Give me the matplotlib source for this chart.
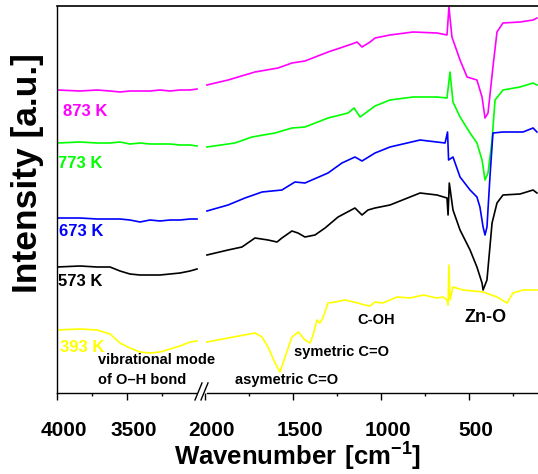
import numpy as np
import matplotlib
matplotlib.use("Agg")
import matplotlib.pyplot as plt
from matplotlib.ticker import FixedLocator
from matplotlib.transforms import ScaledTranslation

plt.rcParams['font.family'] = ['Liberation Sans', 'DejaVu Sans']
plt.rcParams['font.weight'] = 'bold'
plt.rcParams['mathtext.fontset'] = 'custom'
plt.rcParams['mathtext.rm'] = 'Liberation Sans:bold'
plt.rcParams['mathtext.bf'] = 'Liberation Sans:bold'

# ---- data, intensity in arbitrary units ----
left_wn = [4000, 3836, 3714, 3621, 3550, 3479, 3407, 3336, 3264, 3193, 3121, 3050, 3000]
left_873 = [303, 302, 303, 302, 301, 302, 302, 302, 303, 302, 303, 303, 304]
left_773 = [250, 251, 250, 250, 251, 249, 250, 249, 249, 249, 248, 248, 247]
left_673 = [175, 175, 174, 174, 174, 173, 171, 173, 172, 173, 173, 174, 174]
left_573 = [126, 127, 126, 126, 122, 119, 118, 118, 118, 119, 120, 122, 124]
left_393 = [63, 64, 63, 59, 50, 45, 41, 40, 41, 44, 47, 51, 52]

wn_873 = [1989, 1869, 1716, 1585, 1506, 1432, 1301, 1165, 1136, 1108, 1062, 1034, 949, 818, 682,
          625, 614, 597, 551, 511, 455, 426, 409, 392, 364, 341, 307, 210, 136, 114]
i_873 = [308, 313, 321, 325, 330, 332, 341, 349, 351, 346, 351, 355, 358, 361, 360,
         358, 386, 356, 333, 316, 313, 296, 275, 280, 326, 361, 370, 371, 373, 375]

wn_773 = [1989, 1830, 1733, 1602, 1506, 1432, 1301, 1187, 1153, 1119, 1034, 949, 818, 682,
          625, 608, 591, 551, 494, 455, 426, 409, 392, 369, 352, 307, 210, 136, 114]
i_773 = [246, 250, 256, 260, 265, 266, 275, 280, 285, 276, 287, 293, 296, 296,
         295, 321, 291, 276, 260, 250, 233, 213, 220, 253, 293, 303, 306, 310, 308]

wn_673 = [1989, 1869, 1773, 1676, 1563, 1489, 1432, 1301, 1222, 1148, 1108, 1034, 949, 778,
          636, 622, 616, 591, 551, 494, 455, 438, 420, 409, 398, 381, 364, 307, 193, 136, 114]
i_673 = [182, 188, 195, 201, 203, 211, 210, 220, 230, 236, 232, 240, 246, 253,
         250, 261, 233, 236, 216, 203, 196, 186, 166, 158, 166, 216, 260, 261, 261, 265, 261]

wn_573 = [1989, 1869, 1790, 1716, 1642, 1591, 1563, 1506, 1472, 1432, 1375, 1318, 1244, 1148,
          1108, 1074, 1034, 949, 778, 682, 625, 619, 612, 591, 551, 494, 455, 426, 420, 398,
          369, 341, 307, 210, 136, 114]
i_573 = [138, 143, 146, 155, 153, 151, 155, 162, 160, 156, 158, 165, 176, 185,
         178, 183, 185, 188, 200, 198, 195, 178, 210, 183, 163, 143, 126, 110, 103, 113,
         170, 190, 198, 199, 203, 200]

wn_393 = [1989, 1869, 1716, 1676, 1642, 1602, 1574, 1545, 1506, 1470, 1432, 1403, 1386, 1364,
          1347, 1330, 1301, 1261, 1205, 1131, 1091, 1062, 1034, 989, 909, 835, 761, 682, 648,
          625, 619, 614, 608, 591, 534, 420, 341, 284, 250, 193, 114]
i_393 = [51, 55, 60, 56, 46, 30, 21, 36, 56, 61, 53, 50, 58, 73,
         70, 75, 90, 91, 93, 90, 88, 87, 91, 90, 96, 95, 98, 95, 96,
         93, 88, 128, 93, 106, 103, 101, 96, 90, 100, 103, 103]

temps = ['873 K', '773 K', '673 K', '573 K', '393 K']
colors = ['#ff00ff', '#00ff00', '#0000ff', '#000000', '#ffff00']
lefts = [left_873, left_773, left_673, left_573, left_393]
rights = [(wn_873, i_873), (wn_773, i_773), (wn_673, i_673), (wn_573, i_573), (wn_393, i_393)]
label_pos = [(3957, 281), (3993, 230), (3986, 161), (3993, 111), (3979, 45)]


# broken x axis: 4000-3000 squeezed on the left, 2000-100 on the right
def fwd(w):
    w = np.asarray(w, dtype=float)
    return np.where(w >= 3000, (4000 - w) * 0.14,
                    np.where(w <= 2000, 148 + (2000 - w) * 0.176, 140 + (3000 - w) * 0.008))


def inv(u):
    u = np.asarray(u, dtype=float)
    return np.where(u <= 140, 4000 - u / 0.14,
                    np.where(u >= 148, 2000 - (u - 148) / 0.176, 3000 - (u - 140) / 0.008))


fig = plt.figure(figsize=(5.38, 4.74), dpi=100)
ax = fig.add_axes([57 / 538, 81 / 474, 481 / 538, 387 / 474])
ax.set_xscale('function', functions=(fwd, inv))

for lv, (wr, ir), c in zip(lefts, rights, colors):
    ax.plot(left_wn, lv, color=c, lw=1.2)
    ax.plot(wr, ir, color=c, lw=1.2)

for t, c, (x, y) in zip(temps, colors, label_pos):
    ax.text(x, y, t, color=c, fontsize=12, ha='left', va='center')

ax.text(3707, 33, 'vibrational mode', fontsize=10.5, va='center')
ax.text(3707, 13, 'of O\u2013H bond', fontsize=10.5, va='center')
ax.text(1830, 13, 'asymetric C=O', fontsize=10.5, va='center')
ax.text(1494, 41, 'symetric C=O', fontsize=10.5, va='center')
ax.text(1136, 73, 'C-OH', fontsize=10.5, va='center')
ax.text(528, 75, 'Zn-O', fontsize=13, va='center')

# decreasing scale function: keep the limits in increasing order
ax.set_xlim(108, 4000)
ax.set_ylim(0, 387)
ax.set_yticks([])

ax.xaxis.set_major_locator(FixedLocator([4000, 3500, 2000, 1500, 1000, 500]))
ax.xaxis.set_minor_locator(FixedLocator([3750, 3250, 1750, 1250, 750, 250]))
ax.set_xticklabels(['4000', '3500', '2000', '1500', '1000', '500'])
ax.tick_params(axis='x', which='major', direction='out', length=5, width=1,
               labelsize=15, pad=15)
ax.tick_params(axis='x', which='minor', direction='out', length=2.5, width=1)
shift = ScaledTranslation(6.5 / 100, 0, fig.dpi_scale_trans)
for lab in ax.get_xticklabels():
    lab.set_transform(lab.get_transform() + shift)

for s in ['right', 'bottom']:
    ax.spines[s].set_visible(False)
ax.spines['top'].set_linewidth(1.2)
ax.spines['left'].set_linewidth(1.0)

# bottom axis line with the break
ax.plot([0, 139 / 481], [0, 0], color='k', lw=1.0, transform=ax.transAxes, clip_on=False)
ax.plot([150 / 481, 1], [0, 0], color='k', lw=1.0, transform=ax.transAxes, clip_on=False)
for x0 in [138 / 481, 144 / 481]:
    ax.plot([x0, x0 + 7 / 481], [-0.018, 0.026], color='k', lw=1.0,
            transform=ax.transAxes, clip_on=False)

ax.set_xlabel(r'$\mathbf{Wavenumber\ [cm^{-1}]}$', fontsize=18.5, labelpad=1)
fig.text(28 / 538, 1 - 173 / 474, 'Intensity [a.u.]', rotation=90, fontsize=25.5,
         ha='center', va='center')

fig.savefig('out.png', dpi=100)
